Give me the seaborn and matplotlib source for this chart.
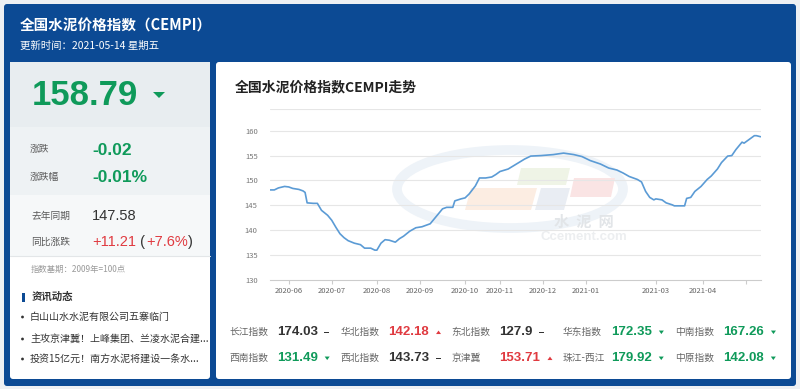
import pandas as pd
import seaborn as sns
import matplotlib.pyplot as plt
from matplotlib.patches import Rectangle, FancyBboxPatch, Polygon, Ellipse, Circle

# CEMPI daily readings, x = trading-day number since 2020-05 start
trade_day = [0, 2, 4, 7, 9, 11, 14, 16, 17, 18, 21, 23, 25, 28, 30, 32, 34, 36, 38, 41,
             44, 46, 49, 51, 52, 54, 56, 58, 61, 63, 65, 68, 71, 74, 78, 81, 84, 86, 89, 90,
             93, 95, 97, 100, 102, 105, 108, 110, 112, 116, 120, 124, 127, 132, 138, 143, 148, 152, 156, 161,
             165, 169, 172, 175, 179, 181, 183, 185, 187, 188, 191, 193, 196, 197, 202, 203, 205, 207, 210, 213,
             215, 218, 220, 223, 225, 227, 230, 231, 233, 236, 237, 239]
cempi = [148.1, 148.1, 148.5, 148.8, 148.7, 148.4, 148.2, 147.9, 147.6, 145.5, 145.4, 145.4, 144.0, 143.0, 142.0, 140.6, 139.3, 138.5, 137.9, 137.4,
         137.1, 136.4, 136.4, 136.0, 136.0, 137.4, 138.1, 138.0, 137.6, 138.3, 138.8, 139.8, 140.5, 140.7, 141.3, 142.8, 144.3, 144.6, 144.6, 145.9,
         146.3, 146.5, 147.3, 148.9, 150.5, 150.5, 150.7, 151.2, 151.8, 152.3, 153.3, 154.3, 154.9, 155.0, 155.2, 155.5, 155.2, 154.8, 154.0, 153.3,
         152.5, 152.1, 151.5, 150.8, 150.2, 149.7, 147.8, 146.6, 146.1, 146.3, 146.1, 145.5, 145.1, 144.9, 144.9, 146.4, 146.6, 147.8, 148.8, 150.2,
         150.9, 152.3, 153.6, 154.9, 155.0, 156.2, 157.7, 157.5, 158.1, 159.0, 159.0, 158.79]

month_pos = [9, 30, 52, 73, 95, 112, 133, 154, 188, 211, 232]
month_labels = ["2020-06", "2020-07", "2020-08", "2020-09", "2020-10", "2020-11",
                "2020-12", "2021-01", "2021-03", "2021-04", ""]

region_names = [["长江指数", "华北指数", "东北指数", "华东指数", "中南指数"],
                ["西南指数", "西北指数", "京津冀", "珠江-西江", "中原指数"]]
region_values = [["174.03", "142.18", "127.9", "172.35", "167.26"],
                 ["131.49", "143.73", "153.71", "179.92", "142.08"]]
region_trend = [[0, 1, 0, -1, -1],
                [-1, 0, 1, -1, -1]]

news = ["白山山水水泥有限公司五寨临门",
        "主攻京津冀！上峰集团、兰凌水泥合建...",
        "投资15亿元！南方水泥将建设一条水..."]

BLUE = "#0c4a94"
GREEN = "#0f9a5a"
RED = "#e03a40"
DARK = "#333333"
LABEL = "#5a5a5a"
NUM_FONT = ["Liberation Sans", "DejaVu Sans"]

sns.set_theme(style="white")
plt.rcParams["font.family"] = ["Noto Sans CJK SC", "DejaVu Sans"]

fig = plt.figure(figsize=(8, 3.89), dpi=100)
fig.patch.set_facecolor("#eef0f3")
bg = fig.add_axes([0, 0, 1, 1])
bg.set_xlim(0, 800)
bg.set_ylim(389, 0)
bg.axis("off")
renderer = fig.canvas.get_renderer()


def box(x0, y0, x1, y1, color, r=0):
    if r:
        p = FancyBboxPatch((x0, y0), x1 - x0, y1 - y0, boxstyle=f"round,pad=0,rounding_size={r}",
                           fc=color, ec="none")
    else:
        p = Rectangle((x0, y0), x1 - x0, y1 - y0, fc=color, ec="none")
    bg.add_patch(p)


def txt(x, y, s, size, color, weight="normal", ha="left", family=None):
    kw = {} if family is None else {"family": family}
    return bg.text(x, y, s, fontsize=size, color=color, fontweight=weight, ha=ha, va="center", **kw)


def right_edge(t):
    return t.get_window_extent(renderer).x1


def tri(x, y, w, h, up, color):
    if up:
        pts = [(x, y + h / 2), (x + w, y + h / 2), (x + w / 2, y - h / 2)]
    else:
        pts = [(x, y - h / 2), (x + w, y - h / 2), (x + w / 2, y + h / 2)]
    bg.add_patch(Polygon(pts, closed=True, fc=color, ec="none"))


# frame + cards
box(4, 4, 796, 386, BLUE, r=3)
box(10, 62, 210, 379, "white", r=3)
box(10, 62, 210, 127, "#e8edf0")
box(10, 127, 210, 195, "#eef2f4")
box(10, 195, 210, 256, "#f6f8f9")
bg.plot([10, 210], [256, 256], color="#e3e6e8", lw=0.8)
box(216, 62, 791, 379, "white", r=3)

# header
txt(20, 26, "全国水泥价格指数（CEMPI）", 10.5, "white", "bold")
txt(20, 46, "更新时间：2021-05-14 星期五", 7.5, "white")

# left summary
txt(32, 95, "158.79", 25, GREEN, "bold", family=NUM_FONT)
tri(153, 95, 12, 6, False, GREEN)
txt(30, 149, "涨跌", 7, LABEL)
txt(92, 150, "-0.02", 12.5, GREEN, "bold", family=NUM_FONT)
txt(30, 177, "涨跌幅", 7, LABEL)
txt(92, 177, "-0.01%", 12.5, GREEN, "bold", family=NUM_FONT)
txt(31, 215.5, "去年同期", 7, LABEL)
txt(92, 216, "147.58", 10.5, DARK, family=NUM_FONT)
txt(31, 241.5, "同比涨跌", 7, LABEL)
xx = 92
for piece, col in [("+11.21", RED), (" (", DARK), ("+7.6%", RED), (")", DARK)]:
    t = txt(xx, 242, piece, 10.5, col, family=NUM_FONT)
    xx = right_edge(t) + 0.5
txt(31, 269, "指数基期：2009年=100点", 6, "#9a9a9a")

box(22, 292.5, 24.5, 302, BLUE)
txt(32, 297, "资讯动态", 7.5, DARK, "bold")
for k, item in enumerate(news):
    yy = [317, 339, 359][k]
    bg.add_patch(Circle((22.5, yy), 1.4, fc=DARK, ec="none"))
    txt(30, yy, item, 7.2, DARK)

# right card
txt(235, 87, "全国水泥价格指数CEMPI走势", 10, "#222222", "bold")

# faint watermark behind the chart
bg.add_patch(Ellipse((510, 189), 226, 78, fc="none", ec="#eef3f8", lw=7))
bg.add_patch(Polygon([(465, 210), (471, 188), (537, 188), (531, 210)], fc="#fcede2", ec="none"))
bg.add_patch(Polygon([(535, 210), (541, 188), (570, 188), (564, 210)], fc="#e9edf3", ec="none"))
bg.add_patch(Polygon([(517, 185), (521, 168), (570, 168), (566, 185)], fc="#eff4e6", ec="none"))
bg.add_patch(Polygon([(570, 197), (574, 178), (615, 178), (611, 197)], fc="#fae4e4", ec="none"))
txt(584, 222, "水  泥  网", 11, "#e2e5e8", "bold", ha="center")
txt(584, 237, "Ccement.com", 9.5, "#eceef0", "bold", ha="center", family=NUM_FONT)

# table of regional indices
label_x = [229, 340.5, 451.7, 562.6, 674.9]
value_x = [276.8, 388.4, 499.6, 611, 723.2]
for r, yy in enumerate([332, 358]):
    for c in range(5):
        trend = region_trend[r][c]
        col = DARK if trend == 0 else (RED if trend > 0 else GREEN)
        txt(label_x[c], yy, region_names[r][c], 7, "#666666")
        t = txt(value_x[c], yy, region_values[r][c], 9.5, col, "bold", family=NUM_FONT)
        end = right_edge(t)
        if trend == 0:
            box(end + 6, yy - 0.3, end + 11, yy + 1.3, DARK)
        else:
            tri(end + 7, yy + 0.3, 5, 3.5, trend > 0, col)

# trend chart
ax = fig.add_axes([270.2 / 800, 1 - 280 / 389, 490.3 / 800, 170.7 / 389])
ax.set_facecolor("none")
df = pd.DataFrame({"day": trade_day, "cempi": cempi})
sns.lineplot(data=df, x="day", y="cempi", ax=ax, color="#5b9bd5", lw=1.2)
ax.set_xlim(0, 239)
ax.set_ylim(130, 164.3)
for v in [135, 140, 145, 150, 155, 160, 164.3]:
    ax.axhline(v, color="#e6e6e6", lw=0.8, zorder=0)
ax.set_yticks([130, 135, 140, 145, 150, 155, 160])
ax.set_xticks(month_pos)
ax.set_xticklabels(month_labels)
for side in ["top", "right", "left"]:
    ax.spines[side].set_visible(False)
ax.spines["bottom"].set_color("#cccccc")
ax.spines["bottom"].set_linewidth(0.8)
ax.tick_params(axis="x", length=3, width=0.8, color="#cccccc", labelsize=5.5, labelcolor="#666666", pad=2,
               bottom=True)
ax.tick_params(axis="y", length=0, labelsize=5.5, labelcolor="#777777", pad=9)
ax.set_xlabel("")
ax.set_ylabel("")
ax.grid(False)

fig.savefig("out.png", dpi=100)
